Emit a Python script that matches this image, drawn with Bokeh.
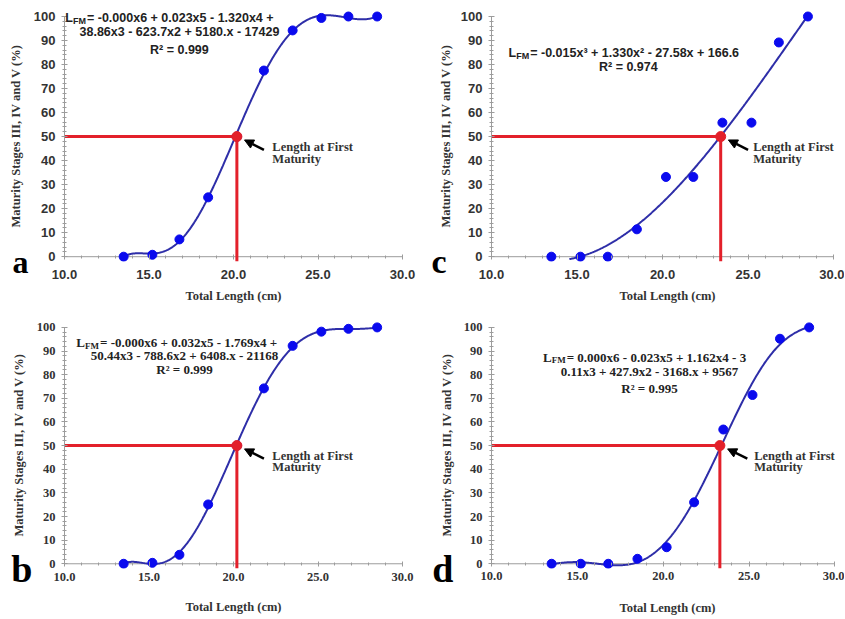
import numpy as np
from numpy.polynomial import Polynomial
from bokeh.plotting import figure
from bokeh.layouts import gridplot
from bokeh.models import Range1d, Label, FixedTicker, Arrow, NormalHead, LinearAxis
from bokeh.embed import file_html
from bokeh.resources import INLINE

# ---------------- data ----------------
total_length = [13.5, 15.2, 16.8, 18.5, 20.2, 21.8, 23.5, 25.2, 26.8, 28.5]
maturity_a = [0.0, 0.8, 7.2, 24.7, 50.0, 77.5, 94.2, 99.4, 100.0, 100.0]
maturity_b = [0.0, 0.4, 3.8, 25.1, 50.0, 74.2, 92.2, 98.2, 99.4, 100.0]
maturity_c = [0.0, 0.0, 0.0, 11.4, 33.2, 33.2, 55.8, 55.8, 89.2, 100.0]
maturity_d = [0.0, 0.0, 0.0, 2.1, 7.0, 26.0, 56.8, 71.4, 95.2, 100.0]
lfm_a, lfm_b, lfm_c, lfm_d = 20.2, 20.2, 23.4, 23.3
fit_order_a, fit_order_b, fit_order_c, fit_order_d = 6, 6, 3, 6

x_ticks = [10, 15, 20, 25, 30]
x_tick_labels = ["10.0", "15.0", "20.0", "25.0", "30.0"]
y_ticks = [0, 10, 20, 30, 40, 50, 60, 70, 80, 90, 100]

eq_a = ["= -0.000x6 + 0.023x5 - 1.320x4 +", "38.86x3 - 623.7x2 + 5180.x - 17429", "R² = 0.999"]
eq_b = ["= -0.000x6 + 0.032x5 - 1.769x4 +", "50.44x3 - 788.6x2 + 6408.x - 21168", "R² = 0.999"]
eq_c = ["= -0.015x³ + 1.330x² - 27.58x + 166.6", "R² = 0.974"]
eq_d = ["= 0.000x6 - 0.023x5 + 1.162x4 - 3", "0.11x3 + 427.9x2 - 3168.x + 9567", "R² = 0.995"]
note_lines = ["Length at First", "Maturity"]
x_title = "Total Length (cm)"
y_title = "Maturity Stages III, IV and V (%)"

BLUE = "#0a0aee"
CURVE = "#2e2ea8"
RED = "#e3202a"
AXIS = "#9c9c9c"
SANS = "Liberation Sans"
SERIF = "Liberation Serif"
Y_START, Y_END = -2, 102.5


def panel(xs, ys, lfm, order, eq, letter, g):
    p = figure(width=g["w"], height=g["h"], x_range=Range1d(10, g["x_end"]),
               y_range=Range1d(Y_START, Y_END), output_backend="svg",
               toolbar_location=None, min_border_left=g["bl"], min_border_right=g["br"],
               min_border_top=g["bt"], min_border_bottom=g["bb"])
    p.outline_line_color = None
    p.grid.visible = False
    p.background_fill_color = "white"
    font = g["font"]

    p.yaxis.bounds = (0, 100)
    p.xaxis.bounds = (x_ticks[0], x_ticks[-1])
    p.xaxis.ticker = FixedTicker(ticks=x_ticks, minor_ticks=list(range(10, 31)))
    p.yaxis.ticker = FixedTicker(ticks=y_ticks, minor_ticks=list(range(0, 101, 2)))
    p.xaxis.major_label_overrides = {t: s for t, s in zip(x_ticks, x_tick_labels)}
    for ax in (p.xaxis, p.yaxis):
        ax.axis_line_color = AXIS
        ax.major_tick_line_color = AXIS
        ax.minor_tick_line_color = AXIS
        ax.major_label_text_font = font
        ax.major_label_text_font_style = "bold"
        ax.major_label_text_font_size = g["tick_fs"]
        ax.major_label_text_color = "#333333"
        ax.axis_label_text_font = SERIF
        ax.axis_label_text_font_style = "bold"
        ax.axis_label_text_font_size = "12.5px"
        ax.axis_label_text_color = "#333333"
    p.yaxis.major_tick_in = 3
    p.yaxis.major_tick_out = 3
    p.yaxis.minor_tick_in = 2
    p.yaxis.minor_tick_out = 2
    # x axis sits at the bottom of the frame; its visible line is drawn at y = 0
    p.xaxis.axis_line_color = None
    p.xaxis.major_tick_in = 7
    p.xaxis.major_tick_out = -2
    p.xaxis.minor_tick_in = 6
    p.xaxis.minor_tick_out = -3
    p.segment(x0=[x_ticks[0]], y0=[y_ticks[0]], x1=[x_ticks[-1]], y1=[y_ticks[0]],
              line_color=AXIS, line_width=1)
    p.xaxis.major_label_standoff = g["xls"]
    p.xaxis.axis_label_standoff = g["xts"]
    p.yaxis.major_label_standoff = 6
    p.yaxis.axis_label_standoff = g["yts"]
    p.xaxis.axis_label = x_title
    p.yaxis.axis_label = y_title

    # panel letter: an extra, line-less left axis whose only tick label is the letter
    p.extra_y_ranges = {"letter": Range1d(Y_START, Y_END)}
    lax = LinearAxis(y_range_name="letter", ticker=FixedTicker(ticks=[Y_START]),
                     major_label_overrides={Y_START: letter},
                     axis_line_color=None, major_tick_line_color=None,
                     minor_tick_line_color=None, major_tick_in=0, major_tick_out=0,
                     major_label_standoff=g["let_so"], major_label_text_font=SERIF,
                     major_label_text_font_style="bold",
                     major_label_text_font_size=g["let_fs"],
                     major_label_text_color="black")
    p.add_layout(lax, "left")

    # fitted trend line (polynomial least squares, like the original trendline)
    fit = Polynomial.fit(xs, ys, order)
    xx = np.linspace(min(xs), max(xs), 300)
    yy = fit(xx)
    yy = np.where(yy < -1.0, np.nan, yy)
    p.line(xx, yy, line_color=CURVE, line_width=2)

    # red guide lines
    p.line([10, lfm], [50, 50], line_color=RED, line_width=3)
    p.line([lfm, lfm], [50, Y_START], line_color=RED, line_width=3)

    # data points
    p.scatter(xs, ys, size=9, fill_color=BLUE, line_color=BLUE)
    p.scatter([lfm], [50], size=10, fill_color=RED, line_color=RED)

    # arrow + note
    p.add_layout(Arrow(end=NormalHead(size=9, fill_color="black", line_color="black"),
                       x_start=lfm + 1.6, y_start=44.5, x_end=lfm + 0.45, y_end=48.6,
                       line_color="black", line_width=2.5))
    for i, t in enumerate(note_lines):
        p.add_layout(Label(x=lfm + g["note_dx"], y=45.8 - 5.0 * i, text=t, text_font=SERIF,
                           text_font_style="bold", text_font_size="12.5px",
                           text_color="#333333", text_baseline="middle"))

    # equation
    fs = g["eq_fs"]
    sub_fs = 9
    if font == SANS:
        l_w, sub_w = 0.611 * fs, 1.444 * sub_fs + 1
    else:
        l_w, sub_w = 0.667 * fs, 1.555 * sub_fs + 1
    x0 = g["eq_x0"]
    y0 = g["eq_ys"][0]
    common = dict(text_font=font, text_font_style="bold", text_color="#222222",
                  text_baseline="middle")
    p.add_layout(Label(x=x0, y=y0, text="L", text_font_size=f"{fs}px", **common))
    p.add_layout(Label(x=x0, y=y0, x_offset=l_w, y_offset=-3, text="FM",
                       text_font_size=f"{sub_fs}px", **common))
    p.add_layout(Label(x=x0, y=y0, x_offset=l_w + sub_w, text=eq[0],
                       text_font_size=f"{fs}px", **common))
    for t, yv in zip(eq[1:], g["eq_ys"][1:]):
        p.add_layout(Label(x=g["eq_xc"], y=yv, text=t, text_font_size=f"{fs}px",
                           text_align="center", **common))
    return p


ga = dict(w=424, h=310, bl=64, br=18, bt=10, bb=49, x_end=30, font=SANS, tick_fs="13px",
          xls=10, xts=7, yts=8, eq_fs=12.5, eq_x0=10.05, eq_xc=16.8, note_dx=2.1,
          eq_ys=[99.3, 93.6, 86.0], let_so=-23, let_fs="32px")
gc = dict(w=420, h=310, bl=67, br=1, bt=9, bb=49, x_end=30.58, font=SANS, tick_fs="13px",
          xls=10, xts=7, yts=5, eq_fs=12.5, eq_x0=11.0, eq_xc=18.0, note_dx=1.9,
          eq_ys=[85.0, 79.0], let_so=-11, let_fs="34px")
gb = dict(w=424, h=308, bl=63, br=22, bt=11, bb=50, x_end=30, font=SERIF, tick_fs="12.5px",
          xls=6, xts=16, yts=8, eq_fs=13, eq_x0=10.7, eq_xc=17.1, note_dx=2.1,
          eq_ys=[93.5, 88.0, 82.2], let_so=-24, let_fs="38px")
gd = dict(w=420, h=308, bl=66, br=0, bt=7, bb=49, x_end=30.5, font=SERIF, tick_fs="12.5px",
          xls=5, xts=18, yts=7, eq_fs=13, eq_x0=13.0, eq_xc=19.2, note_dx=2.0,
          eq_ys=[87.3, 81.2, 74.0], let_so=-17, let_fs="38px")

pa = panel(total_length, maturity_a, lfm_a, fit_order_a, eq_a, "a", ga)
pc = panel(total_length, maturity_c, lfm_c, fit_order_c, eq_c, "c", gc)
pb = panel(total_length, maturity_b, lfm_b, fit_order_b, eq_b, "b", gb)
pd = panel(total_length, maturity_d, lfm_d, fit_order_d, eq_d, "d", gd)

grid = gridplot([[pa, pc], [pb, pd]], toolbar_location=None)
open("out.html", "w").write(file_html(grid, INLINE))
